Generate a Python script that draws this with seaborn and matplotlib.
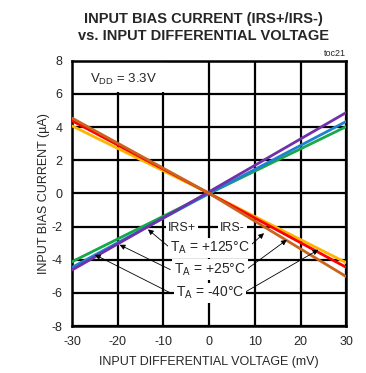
import matplotlib
matplotlib.use("Agg")
import matplotlib.pyplot as plt
import seaborn as sns
import pandas as pd

# input differential voltage (mV)
voltage = [-30, 0, 30]

# IRS+ bias current (uA) per temperature
irs_plus_125 = [-4.12, 0.0, 4.03]
irs_plus_25 = [-4.46, 0.0, 4.34]
irs_plus_m40 = [-4.62, 0.1, 4.88]

# IRS- bias current (uA) per temperature
irs_minus_125 = [4.07, 0.0, -4.18]
irs_minus_25 = [4.38, 0.0, -4.46]
irs_minus_m40 = [4.54, 0.0, -5.02]

series = {
    "IRS+ +125": irs_plus_125,
    "IRS+ +25": irs_plus_25,
    "IRS+ -40": irs_plus_m40,
    "IRS- +125": irs_minus_125,
    "IRS- +25": irs_minus_25,
    "IRS- -40": irs_minus_m40,
}
colors = {
    "IRS+ +125": "#17a84a",
    "IRS+ +25": "#1f7fd0",
    "IRS+ -40": "#7030a8",
    "IRS- +125": "#ffb400",
    "IRS- +25": "#ff0000",
    "IRS- -40": "#c8641e",
}

rows = []
for name, vals in series.items():
    for v, c in zip(voltage, vals):
        rows.append({"v": v, "i": c, "curve": name})
df = pd.DataFrame(rows)

sns.set_style("white")
plt.rcParams["font.family"] = ["Liberation Sans", "DejaVu Sans"]
plt.rcParams["axes.unicode_minus"] = False

fig = plt.figure(figsize=(3.66, 3.73), dpi=100)
ax = fig.add_axes([0.197, 0.126, 0.749, 0.711])

sns.lineplot(data=df, x="v", y="i", hue="curve", palette=colors,
             linewidth=2, legend=False, ax=ax, zorder=3)

ax.set_xlim(-30, 30)
ax.set_ylim(-8, 8)
ax.set_xticks(range(-30, 31, 10))
ax.set_yticks(range(-8, 9, 2))
ax.grid(True, color="black", linewidth=1.6)
ax.set_axisbelow(True)
for s in ax.spines.values():
    s.set_color("black")
    s.set_linewidth(1.8)
ax.tick_params(length=0, labelsize=9, pad=7)
ax.set_xlabel("INPUT DIFFERENTIAL VOLTAGE (mV)", fontsize=9, labelpad=6)
ax.set_ylabel("INPUT BIAS CURRENT (\u00b5A)", fontsize=9, labelpad=1)

fig.text(0.555, 0.968, "INPUT BIAS CURRENT (IRS+/IRS-)\nvs. INPUT DIFFERENTIAL VOLTAGE",
         ha="center", va="top", fontsize=10.5, fontweight="bold",
         family=["Liberation Sans Narrow", "Liberation Sans"], linespacing=1.3)
ax.text(1.0, 1.01, "toc21", transform=ax.transAxes, ha="right", va="bottom",
        fontsize=6.5)

# V_DD box
ax.add_patch(plt.Rectangle((-30, 6.1), 20.5, 1.9, facecolor="white",
                           edgecolor="none", zorder=2))
ax.text(-18.8, 6.85, "V$_{\\mathregular{DD}}$ = 3.3V", ha="center", va="center",
        fontsize=9.5, zorder=4)

box = dict(facecolor="white", edgecolor="none", pad=1.5)
ax.text(-6.0, -2.1, "IRS+", ha="center", va="center", fontsize=9, bbox=box, zorder=4)
ax.text(5.0, -2.1, "IRS-", ha="center", va="center", fontsize=9, bbox=box, zorder=4)

labels = ["T$_{\\mathregular{A}}$ = +125\u00b0C", "T$_{\\mathregular{A}}$ = +25\u00b0C",
          "T$_{\\mathregular{A}}$ = -40\u00b0C"]
label_y = [-3.3, -4.6, -6.0]
left_tips = [(-13.4, -2.17), (-19.6, -3.1), (-25.0, -3.7)]
right_tips = [(12.0, -2.4), (17.0, -2.8), (23.9, -3.4)]
left_tails = [(-8.5, -3.3), (-8.5, -4.6), (-8.5, -6.0)]
right_tails = [(8.4, -3.3), (8.1, -4.6), (7.6, -6.0)]

for lab, y, lt, rt, ltail, rtail in zip(labels, label_y, left_tips, right_tips,
                                          left_tails, right_tails):
    ax.text(0.2, y, lab, ha="center", va="center", fontsize=10, bbox=box, zorder=5)
    for tip, tail in [(lt, ltail), (rt, rtail)]:
        ax.annotate("", xy=tip, xytext=tail, zorder=4,
                    arrowprops=dict(arrowstyle="-|>", color="black", lw=0.6,
                                    mutation_scale=8, shrinkA=0, shrinkB=0))

fig.savefig("out.png", dpi=100)
